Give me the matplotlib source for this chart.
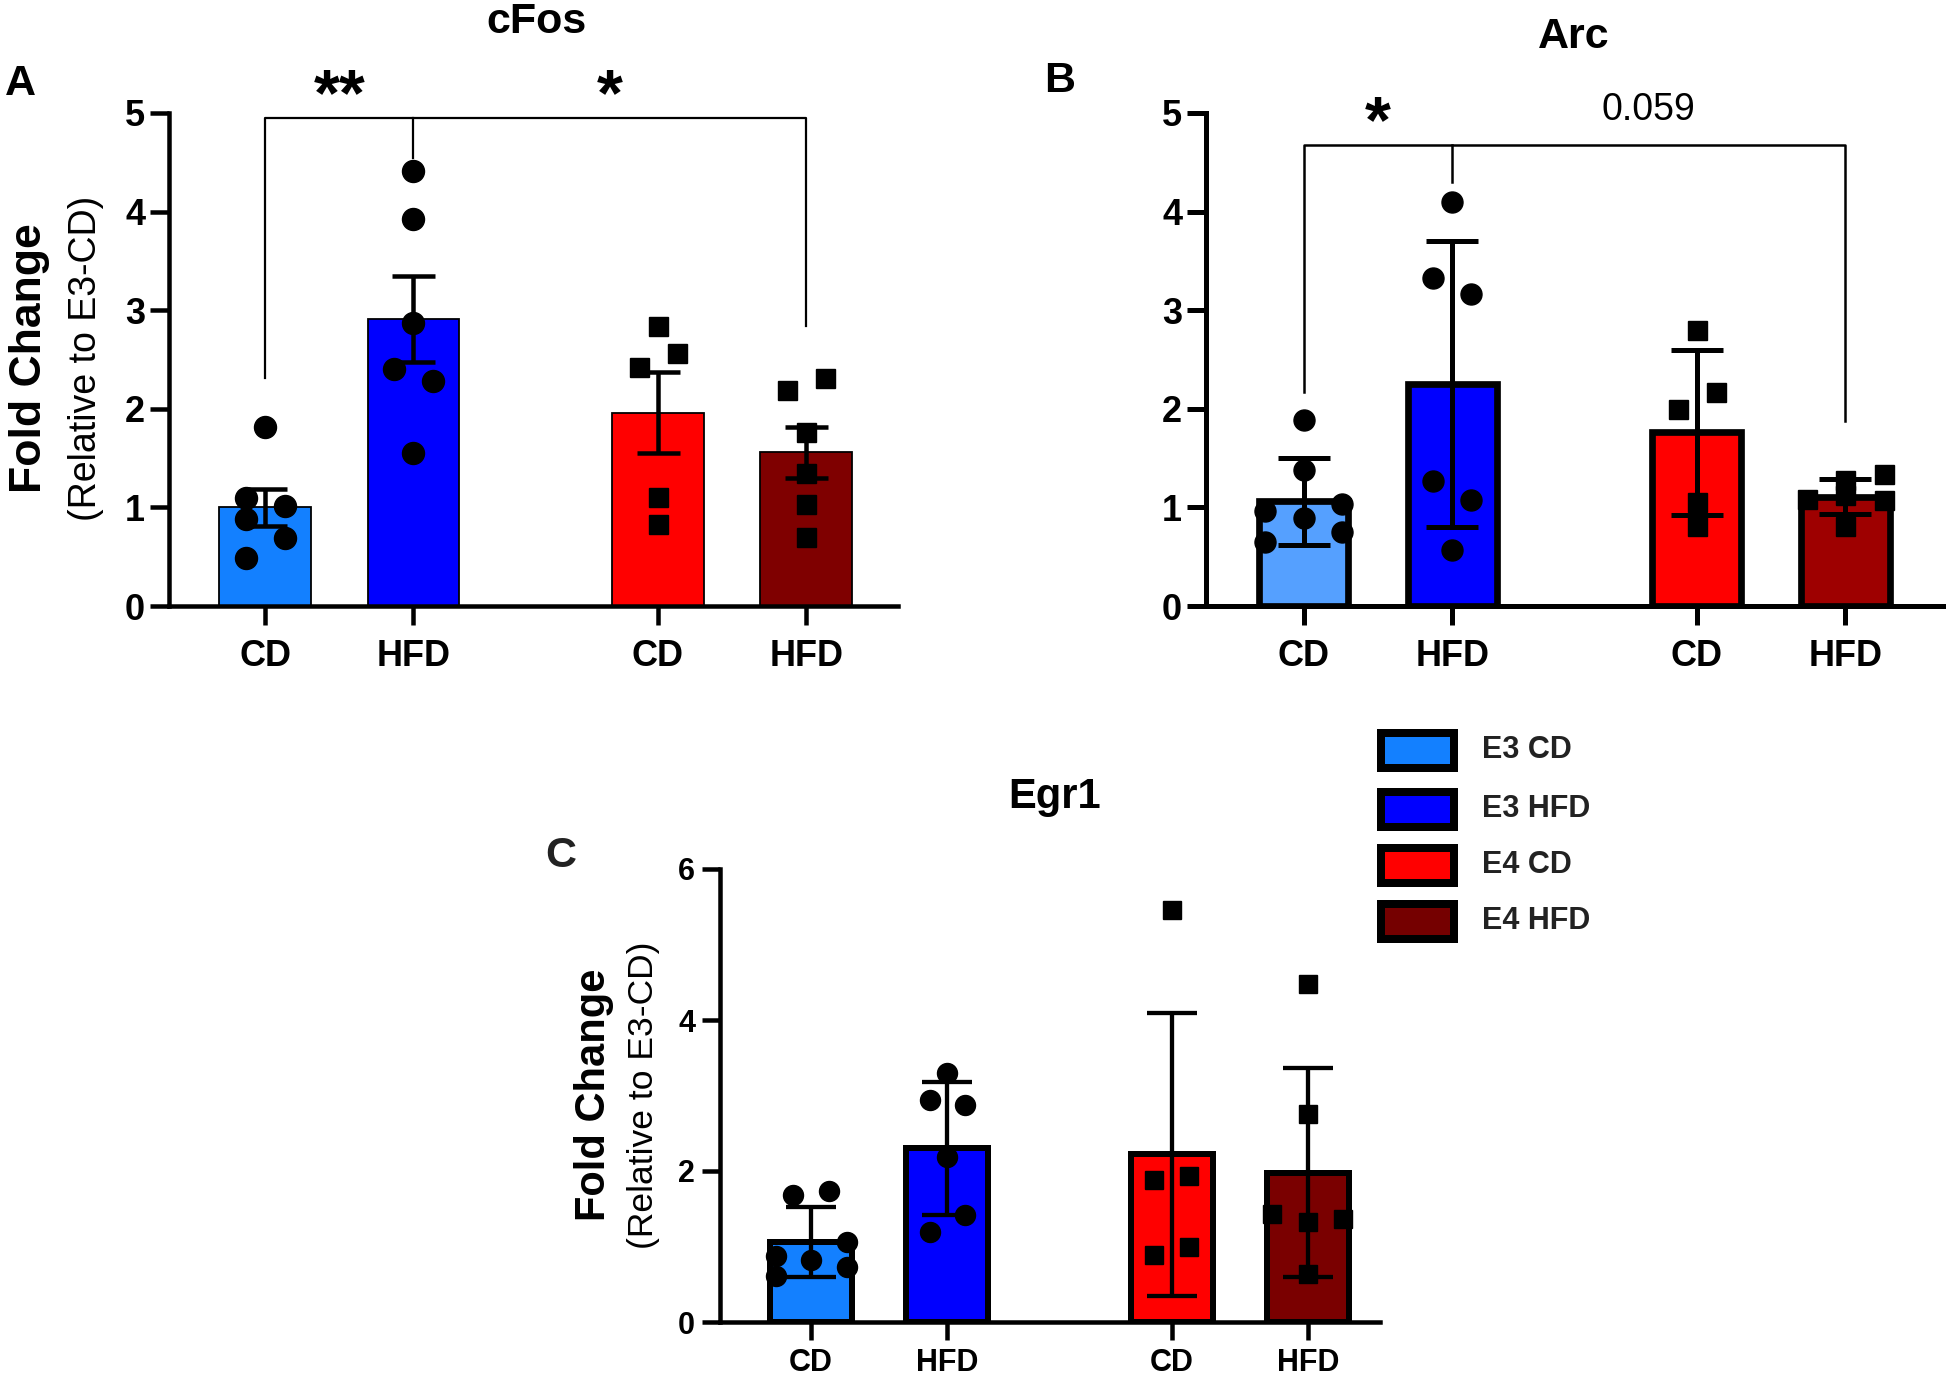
import numpy as np
import matplotlib
matplotlib.use("Agg")
import matplotlib.pyplot as plt
from matplotlib.patches import Rectangle

plt.rcParams["font.family"] = ["Liberation Sans", "DejaVu Sans"]
plt.rcParams["font.weight"] = "bold"

W, H, DPI = 1946, 1379, 100

# ---------------------------------------------------------------------------
# data
# ---------------------------------------------------------------------------
groups = ["CD", "HFD", "CD", "HFD"]
legend_labels = ["E3 CD", "E3 HFD", "E4 CD", "E4 HFD"]

# cFos, mean +/- SEM
cfos_mean = [1.00, 2.91, 1.96, 1.56]
cfos_err = [0.19, 0.44, 0.41, 0.26]
cfos_pts = [
    [1.82, 1.10, 1.01, 0.88, 0.69, 0.49],
    [4.41, 3.92, 2.87, 2.40, 2.28, 1.55],
    [2.84, 2.57, 2.42, 1.11, 0.83],
    [2.31, 2.19, 1.76, 1.35, 1.03, 0.70],
]
cfos_spread = [
    [0, -1, 1, -1, 1, -1],
    [0, 0, 0, -1, 1, 0],
    [0, 1, -1, 0, 0],
    [1, -1, 0, 0, 0, 0],
]

# Arc, mean +/- SD
arc_mean = [1.06, 2.25, 1.76, 1.11]
arc_err = [0.44, 1.45, 0.84, 0.18]
arc_pts = [
    [1.89, 1.38, 0.96, 0.89, 1.03, 0.75, 0.65],
    [4.10, 3.33, 3.16, 1.27, 1.08, 0.57],
    [2.80, 2.17, 2.00, 1.05, 0.81],
    [1.28, 1.34, 1.09, 1.13, 1.07, 0.81],
]
arc_spread = [
    [0, 0, -2, 0, 2, 2, -2],
    [0, -1, 1, -1, 1, 0],
    [0, 1, -1, 0, 0],
    [0, 2, -2, 0, 2, 0],
]

# Egr1, mean +/- SD
egr1_mean = [1.06, 2.30, 2.22, 1.98]
egr1_err = [0.46, 0.88, 1.87, 1.39]
egr1_pts = [
    [1.68, 1.74, 1.06, 0.82, 0.87, 0.73, 0.61],
    [3.30, 2.94, 2.87, 2.18, 1.42, 1.19],
    [5.46, 1.88, 1.94, 0.89, 0.99],
    [4.48, 2.75, 1.43, 1.32, 1.37, 0.63],
]
egr1_spread = [
    [-1, 1, 2, 0, -2, 2, -2],
    [0, -1, 1, 0, 1, -1],
    [0, -1, 1, -1, 1],
    [0, 0, -2, 0, 2, 0],
]

XPOS = np.array([0.0, 1.0, 2.65, 3.65])

colors_a = ["#1380ff", "#0000ff", "#ff0000", "#7f0000"]
colors_b = ["#55a0ff", "#0000ff", "#ff0000", "#9e0000"]
colors_c = ["#1380ff", "#0000ff", "#ff0000", "#7a0000"]
colors_leg = ["#1380ff", "#0000ff", "#ff0000", "#750000"]


def _fx(x):
    return x / W


def _fy(y):
    return 1.0 - y / H


def _rect(left, top, right, bottom):
    return [left / W, 1 - bottom / H, (right - left) / W, (bottom - top) / H]


def _pt(px):
    return px * 72.0 / DPI


def _panel(ax, means, errs, pts, spread, colors, *, bar_w, edge_px, err_px,
           cap_px, spine_px, ms_o, ms_s, ymax, yticks, xlim, fs, xpad, ypad,
           ticklen):
    ax.bar(XPOS, means, width=bar_w, color=colors, edgecolor="black",
           linewidth=_pt(edge_px), zorder=2)
    ax.errorbar(XPOS, means, yerr=errs, fmt="none", ecolor="black",
                elinewidth=_pt(err_px), capthick=_pt(err_px),
                capsize=_pt(cap_px) / 2, zorder=3)
    for i, (vals, offs) in enumerate(zip(pts, spread)):
        marker = "o" if i < 2 else "s"
        ms = ms_o if i < 2 else ms_s
        ax.plot(XPOS[i] + 0.13 * np.asarray(offs), vals, linestyle="none",
                marker=marker, ms=_pt(ms), color="black", mec="black",
                zorder=4, clip_on=False)
    ax.set_xlim(*xlim)
    ax.set_ylim(0, ymax)
    ax.set_yticks(yticks)
    ax.set_xticks(XPOS)
    ax.set_xticklabels(groups)
    for s in ("top", "right"):
        ax.spines[s].set_visible(False)
    for s in ("left", "bottom"):
        ax.spines[s].set_linewidth(_pt(spine_px))
    ax.tick_params(axis="both", width=_pt(spine_px), length=_pt(ticklen),
                   labelsize=fs)
    ax.tick_params(axis="x", pad=xpad)
    ax.tick_params(axis="y", pad=ypad)


def _bracket(ax, x0, xm, x1, top, y0, ym, y1, lw):
    kw = dict(color="black", linewidth=lw, clip_on=False, zorder=5)
    ax.plot([x0, x0, x1, x1], [y0, top, top, y1], **kw)
    ax.plot([xm, xm], [top, ym], **kw)


fig = plt.figure(figsize=(W / DPI, H / DPI), dpi=DPI)

# ---------------------------------------------------------------------------
# Panel A: cFos
# ---------------------------------------------------------------------------
ax_a = fig.add_axes(_rect(169, 113, 898, 606))
_panel(ax_a, cfos_mean, cfos_err, cfos_pts, cfos_spread, colors_a,
       bar_w=0.62, edge_px=1.8, err_px=4.5, cap_px=43, spine_px=4.5,
       ms_o=22, ms_s=19, ymax=5, yticks=[0, 1, 2, 3, 4, 5],
       xlim=(-0.65, 4.27), fs=26, xpad=10, ypad=3.5, ticklen=19)
_bracket(ax_a, XPOS[0], XPOS[1], XPOS[3], 4.95, 2.31, 4.54, 2.84, 1.6)
ax_a.text((XPOS[0] + XPOS[1]) / 2, 5.15, "**", ha="center", va="center",
          fontsize=48, clip_on=False)
ax_a.text((XPOS[1] + XPOS[3]) / 2, 5.15, "*", ha="center", va="center",
          fontsize=48, clip_on=False)

# ---------------------------------------------------------------------------
# Panel B: Arc
# ---------------------------------------------------------------------------
ax_b = fig.add_axes(_rect(1206, 113, 1943, 606))
_panel(ax_b, arc_mean, arc_err, arc_pts, arc_spread, colors_b,
       bar_w=0.60, edge_px=6.7, err_px=5, cap_px=53, spine_px=5,
       ms_o=21, ms_s=19, ymax=5, yticks=[0, 1, 2, 3, 4, 5],
       xlim=(-0.66, 4.31), fs=26, xpad=10, ypad=3.5, ticklen=19)
_bracket(ax_b, XPOS[0], XPOS[1], XPOS[3], 4.68, 2.17, 4.30, 1.88, 1.8)
ax_b.text((XPOS[0] + XPOS[1]) / 2, 4.88, "*", ha="center", va="center",
          fontsize=48, clip_on=False)
ax_b.text((XPOS[1] + XPOS[3]) / 2, 5.03, "0.059", ha="center", va="center",
          fontsize=27, fontweight="normal", clip_on=False)

# ---------------------------------------------------------------------------
# Panel C: Egr1
# ---------------------------------------------------------------------------
ax_c = fig.add_axes(_rect(720, 869, 1380, 1322))
_panel(ax_c, egr1_mean, egr1_err, egr1_pts, egr1_spread, colors_c,
       bar_w=0.60, edge_px=6, err_px=4.3, cap_px=50, spine_px=4.5,
       ms_o=20, ms_s=18, ymax=6, yticks=[0, 2, 4, 6],
       xlim=(-0.67, 4.18), fs=22, xpad=6, ypad=5, ticklen=18)

# titles, panel letters, y labels
fig.text(_fx(536), _fy(22), "cFos", ha="center", va="center", fontsize=31)
fig.text(_fx(1574), _fy(37), "Arc", ha="center", va="center", fontsize=31)
fig.text(_fx(1055), _fy(797), "Egr1", ha="center", va="center", fontsize=30)

fig.text(_fx(20), _fy(84), "A", ha="center", va="center", fontsize=31)
fig.text(_fx(1060), _fy(81), "B", ha="center", va="center", fontsize=31)
fig.text(_fx(561), _fy(856), "C", ha="center", va="center", fontsize=31,
         color="#222222")

fig.text(_fx(30), _fy(358), "Fold Change", rotation=90, ha="center",
         va="center", fontsize=32)
fig.text(_fx(86), _fy(358), "(Relative to E3-CD)", rotation=90, ha="center",
         va="center", fontsize=27, fontweight="normal")
fig.text(_fx(594), _fy(1095), "Fold Change", rotation=90, ha="center",
         va="center", fontsize=30)
fig.text(_fx(643), _fy(1095), "(Relative to E3-CD)", rotation=90,
         ha="center", va="center", fontsize=25.5, fontweight="normal")

# ---------------------------------------------------------------------------
# legend (drawn in pixel space)
# ---------------------------------------------------------------------------
lx0, ly0, lx1, ly1 = 1360, 710, 1700, 950
lax = fig.add_axes(_rect(lx0, ly0, lx1, ly1))
lax.set_xlim(lx0, lx1)
lax.set_ylim(ly1, ly0)
lax.axis("off")
row_y = [750, 809, 865, 921]
box_lw = 8
for yc, col, lab in zip(row_y, colors_leg, legend_labels):
    lax.add_patch(Rectangle((1377 + box_lw / 2, yc - 21.5 + box_lw / 2),
                            81 - box_lw, 43 - box_lw, facecolor=col,
                            edgecolor="black", linewidth=_pt(box_lw)))
    lax.text(1482, yc, lab, ha="left", va="center", fontsize=22,
             color="#222222")

fig.savefig("out.png", dpi=DPI)
